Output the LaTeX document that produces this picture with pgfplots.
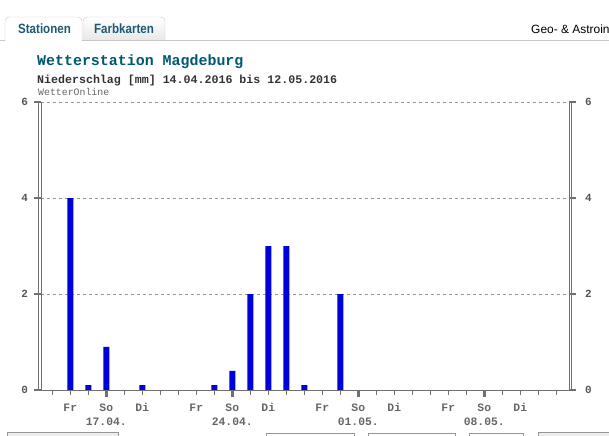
\documentclass[border=0pt]{standalone}
\usepackage{pgfplots}
\usepackage{pgfplotstable}
\pgfplotsset{compat=1.18}
\usepackage{fontspec}
\setmainfont{Liberation Sans}
\newfontfamily\mono{Liberation Mono}
\definecolor{barblue}{RGB}{0,0,221}
\definecolor{titleteal}{RGB}{0,88,112}
\definecolor{tabteal}{RGB}{31,90,115}
\definecolor{axgray}{RGB}{112,112,112}
\definecolor{lblgray}{RGB}{85,85,85}
\definecolor{gridgray}{RGB}{150,150,150}
\definecolor{tabborder}{RGB}{200,200,200}
\definecolor{boxborder}{RGB}{150,150,150}

\pgfplotstableread{
day val
1 4
2 0.1
3 0.9
5 0.1
9 0.1
10 0.4
11 2
12 3
13 3
14 0.1
16 2
}\rain

\begin{document}
\begin{tikzpicture}
\path[use as bounding box] (0,0) rectangle (609bp,-436bp);
\begin{scope}[x=1bp,y=-1bp]
  % tabs
  \path[draw=tabborder, top color=white, bottom color=black!9, rounded corners=4bp] (83,40) -- (83,17) -- (165,17) -- (165,40);
  \path[draw=tabborder, fill=white, rounded corners=4bp] (5,41) -- (5,17) -- (82,17) -- (82,41);
  \draw[tabborder] (0,40.5) -- (5,40.5);
  \draw[tabborder] (82,40.5) -- (609,40.5);
  \node[anchor=base, inner sep=0, font=\bfseries\fontsize{13.5}{13.5}\selectfont, text=tabteal, xscale=0.86] at (44.5,33) {Stationen};
  \node[anchor=base, inner sep=0, font=\bfseries\fontsize{13.5}{13.5}\selectfont, text=tabteal, xscale=0.86] at (124,33) {Farbkarten};
  \node[anchor=base west, inner sep=0, font=\fontsize{12}{12}\selectfont] at (531,33) {Geo- \& Astroin};
  % titles
  \node[anchor=base west, inner sep=0, font=\mono\bfseries\fontsize{15}{15}\selectfont, text=titleteal] at (37,65.5) {Wetterstation Magdeburg};
  \node[anchor=base west, inner sep=0, font=\mono\bfseries\fontsize{11.67}{11.67}\selectfont, text=black!80] at (37,83.5) {Niederschlag [mm] 14.04.2016 bis 12.05.2016};
  \node[anchor=base west, inner sep=0, font=\mono\fontsize{9.9}{9.9}\selectfont, text=black!60] at (38,95.5) {WetterOnline};
  % bottom boxes
  \draw[boxborder, fill=black!7] (7,432.5) rectangle (118,445);
  \draw[boxborder, fill=white] (266.5,433.5) rectangle (354.5,445);
  \draw[boxborder, fill=white] (368.5,433.5) rectangle (455.5,445);
  \draw[boxborder, fill=white] (469.5,433.5) rectangle (523.5,445);
  \draw[boxborder, fill=black!7] (538.5,432.5) rectangle (620,445);
\end{scope}

% main axis: data, grid, daily ticks, left labels
\begin{axis}[
  at={(41bp,-390bp)}, anchor=south west,
  scale only axis, width=528bp, height=288bp,
  xmin=-0.628, xmax=28.706, ymin=0, ymax=6,
  axis line style={draw=none},
  clip=false,
  ytick={0,2,4,6}, ytick pos=left,
  /pgf/number format/assume math mode=true,
  yticklabel style={font=\mono\bfseries\fontsize{11}{11}\selectfont, text=lblgray, xshift=-5bp},
  ytick style={draw=none},
  ymajorgrids, grid style={gridgray, dash pattern=on 3bp off 3bp, line width=0.7bp},
  tick align=outside, major tick length=4.5bp,
  xtick={0,...,28}, xticklabels={}, xtick pos=bottom,
  xtick style={line width=0.9bp, axgray},
]
\addplot[ybar, bar width=6bp, fill=barblue, draw=none] table[x=day,y=val]{\rain};
\draw[axgray, line width=1bp] (rel axis cs:0,1) -- (rel axis cs:0,0) -- (rel axis cs:1,0) -- (rel axis cs:1,1);
\draw[axgray, line width=1bp] ([xshift=-2bp]rel axis cs:0,1) -- ([xshift=-2bp]rel axis cs:0,0) -- ([xshift=2bp]rel axis cs:1,0) -- ([xshift=2bp]rel axis cs:1,1);
\end{axis}

% overlay axis: Sunday ticks, y tick marks both sides, right labels, day labels
\begin{axis}[
  at={(41bp,-390bp)}, anchor=south west,
  scale only axis, width=528bp, height=288bp,
  xmin=-0.628, xmax=28.706, ymin=0, ymax=6,
  axis line style={draw=none},
  xtick={3,10,17,24}, xticklabels={}, xtick pos=bottom,
  xtick style={line width=2.6bp, axgray},
  ytick={0,2,4,6}, ytick pos=both, yticklabel pos=right,
  /pgf/number format/assume math mode=true,
  yticklabel style={font=\mono\bfseries\fontsize{11}{11}\selectfont, text=lblgray, xshift=6bp},
  tick align=outside, major tick length=6.5bp,
  ytick style={line width=2.6bp, axgray},
  extra x ticks={1,3,5,8,10,12,15,17,19,22,24,26},
  extra x tick labels={Fr,So\\17.04.,Di,Fr,So\\24.04.,Di,Fr,So\\01.05.,Di,Fr,So\\08.05.,Di},
  extra x tick style={major tick length=0pt, grid=none,
    tick label style={align=center, font=\mono\bfseries\fontsize{11.4}{14}\selectfont, text=lblgray!90, yshift=-10bp}},
]
\end{axis}
\end{tikzpicture}
\end{document}
